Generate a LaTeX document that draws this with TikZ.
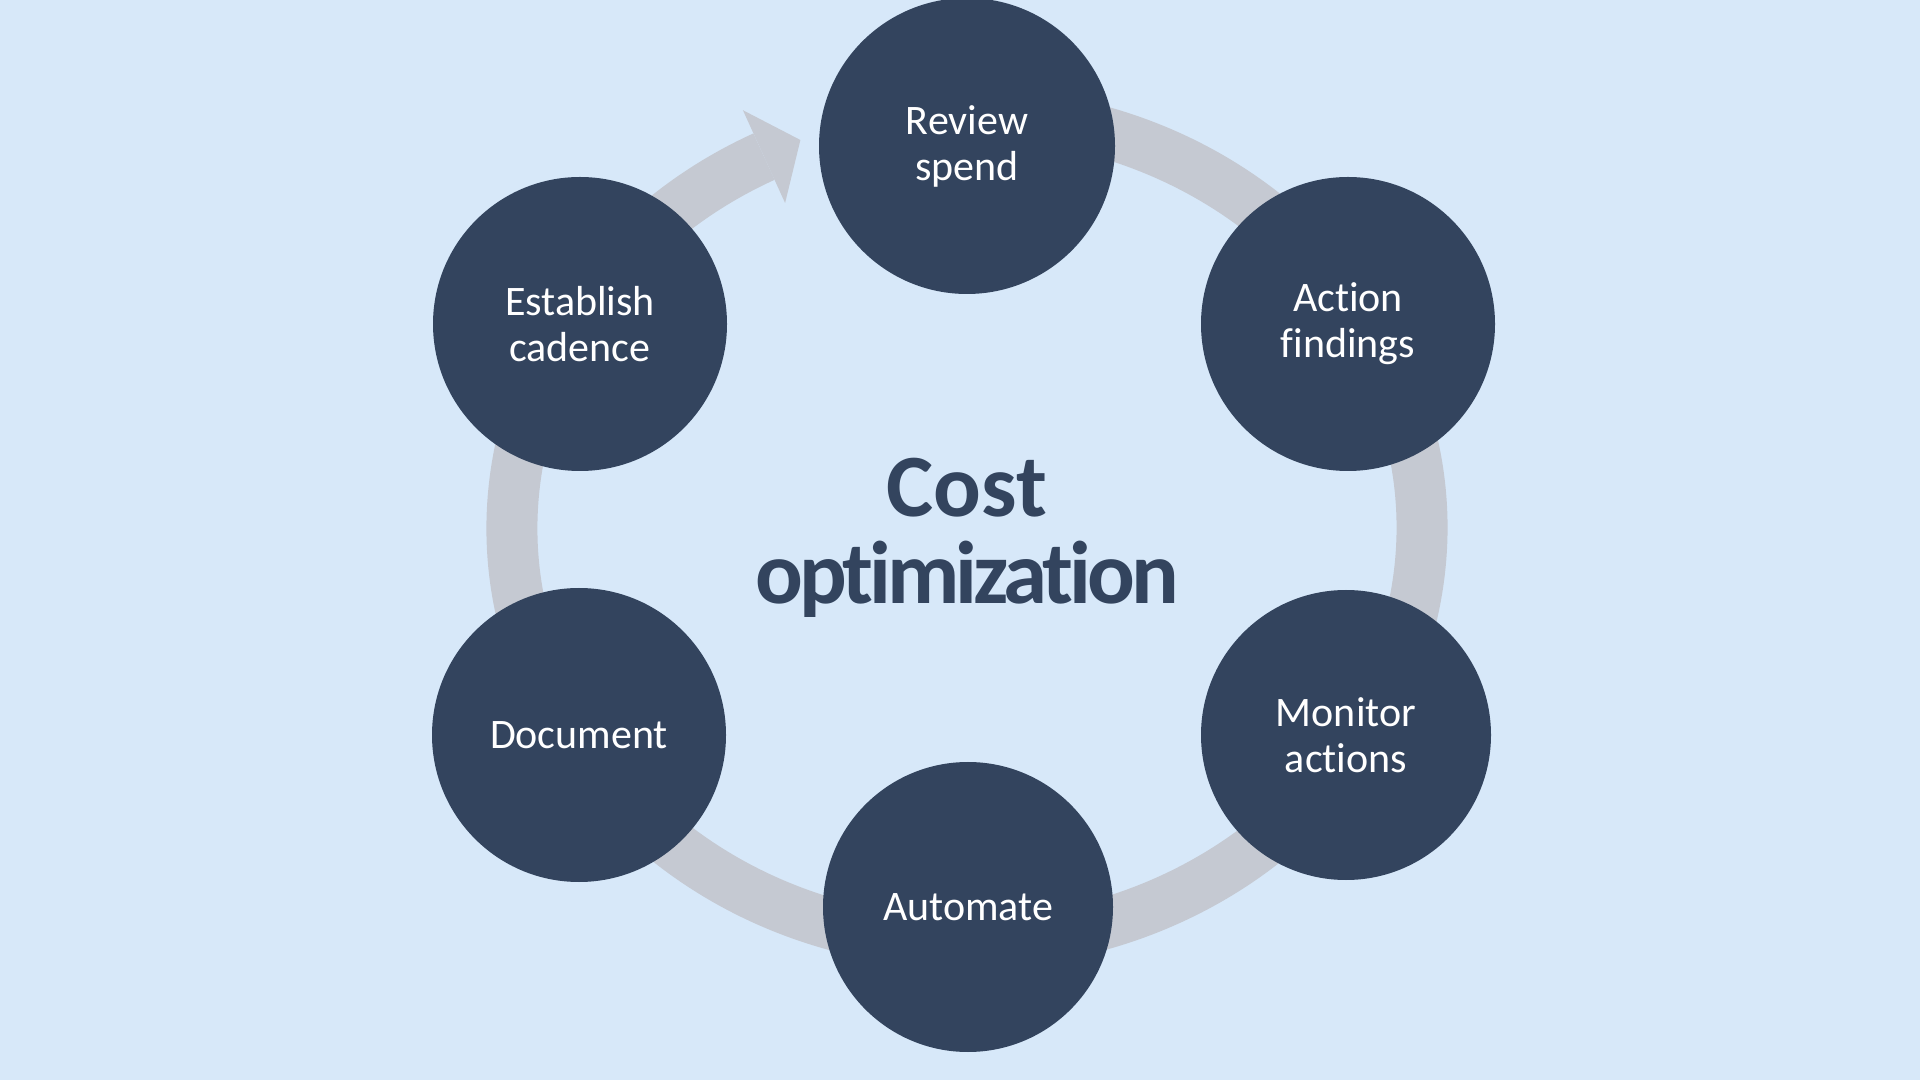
\documentclass[tikz,border=0pt]{standalone}
\usepackage{fontspec}
\setmainfont{Carlito}[Ligatures=NoCommon]
\definecolor{bgblue}{HTML}{D7E8F9}
\definecolor{navy}{HTML}{33445E}
\definecolor{ringgray}{HTML}{C5C9D2}
\begin{document}
\begin{tikzpicture}[x=1pt,y=1pt,
  stage/.style={circle, fill=navy, minimum size=294pt, inner sep=0pt, text=white, align=center, font=\fontsize{42}{46}\selectfont},
  ring/.style={draw=ringgray, line width=51pt},
  ringhead/.style={fill=ringgray},
  titletext/.style={font=\bfseries\fontsize{89}{87}\selectfont, text=navy, align=center}
]
\fill[bgblue] (0,0) rectangle (1920,1080);
\useasboundingbox (0,0) rectangle (1920,1080);
% ring behind the circles
\coordinate (ringstart) at (1046,960.7);
\coordinate (ringend) at (764,923.4);
\draw[ring] (ringstart) arc[start angle=80, end angle=-243.5, x radius=455pt, y radius=415pt];
\coordinate (tip) at (800.4,940);
\coordinate (barbA) at (742.9,969.8);
\coordinate (barbB) at (785.1,877.0);
\fill[ringhead] (barbA) -- (tip) -- (barbB) -- cycle;
% stages
\node[stage, minimum size=296pt] (review) at (967,934) {Review\\spend};
\node[stage] (action) at (1348,756) {Action\\findings};
\node[stage, minimum size=290pt] (monitor) at (1346,345) {Monitor\\actions};
\node[stage, minimum size=290pt] (automate) at (968,173) {Automate};
\node[stage] (document) at (579,345) {Document};
\node[stage] (establish) at (580,756) {Establish\\cadence};
\node[titletext] (title) at (967,542) {Cost\\{\addfontfeatures{LetterSpace=-4.5}optimization}};
\end{tikzpicture}
\end{document}
